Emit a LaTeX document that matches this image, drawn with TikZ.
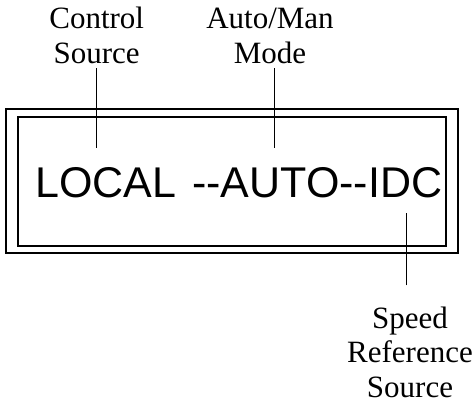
\documentclass[tikz,border=0pt]{standalone}
\usepackage{fontspec}
\setmainfont{Liberation Serif}
\newfontfamily\lcdfont{Liberation Sans}
\begin{document}
\begin{tikzpicture}[x=1pt,y=-1pt,
  frame/.style={draw, line width=1.8pt, inner sep=0pt},
  lead/.style={line width=0.9pt},
  lbl/.style={font=\fontsize{31}{34.5}\selectfont, align=center, inner sep=0pt, outer sep=0pt}]
\useasboundingbox (0,0) rectangle (475,400);
\node[frame, minimum width=452pt, minimum height=144pt] (outer) at (232,181) {};
\node[frame, minimum width=428pt, minimum height=129pt] (inner) at (232,181.5) {};
\node[font=\lcdfont\fontsize{43}{43}\selectfont, anchor=base west, inner sep=0pt] (disp) at (35,197) {LOCAL\hspace{16pt}-{}-AUTO-{}-IDC};
\node[lbl, anchor=base] (ctl) at (96.7,63) {Control\\Source};
\node[lbl, anchor=base] (mode) at (270,63) {Auto/Man\\Mode};
\node[lbl, anchor=base] (spd) at (410,397) {Speed\\Reference\\Source};
\coordinate (ctlend) at (96.7,148);
\coordinate (modeend) at (274,148);
\coordinate (spdend) at (406.7,213);
\draw[lead] ([yshift=-5pt]ctl.south -| ctlend) -- (ctlend);
\draw[lead] ([yshift=-5pt]mode.south -| modeend) -- (modeend);
\draw[lead] ([yshift=21pt]spd.north -| spdend) -- (spdend);
\end{tikzpicture}
\end{document}
